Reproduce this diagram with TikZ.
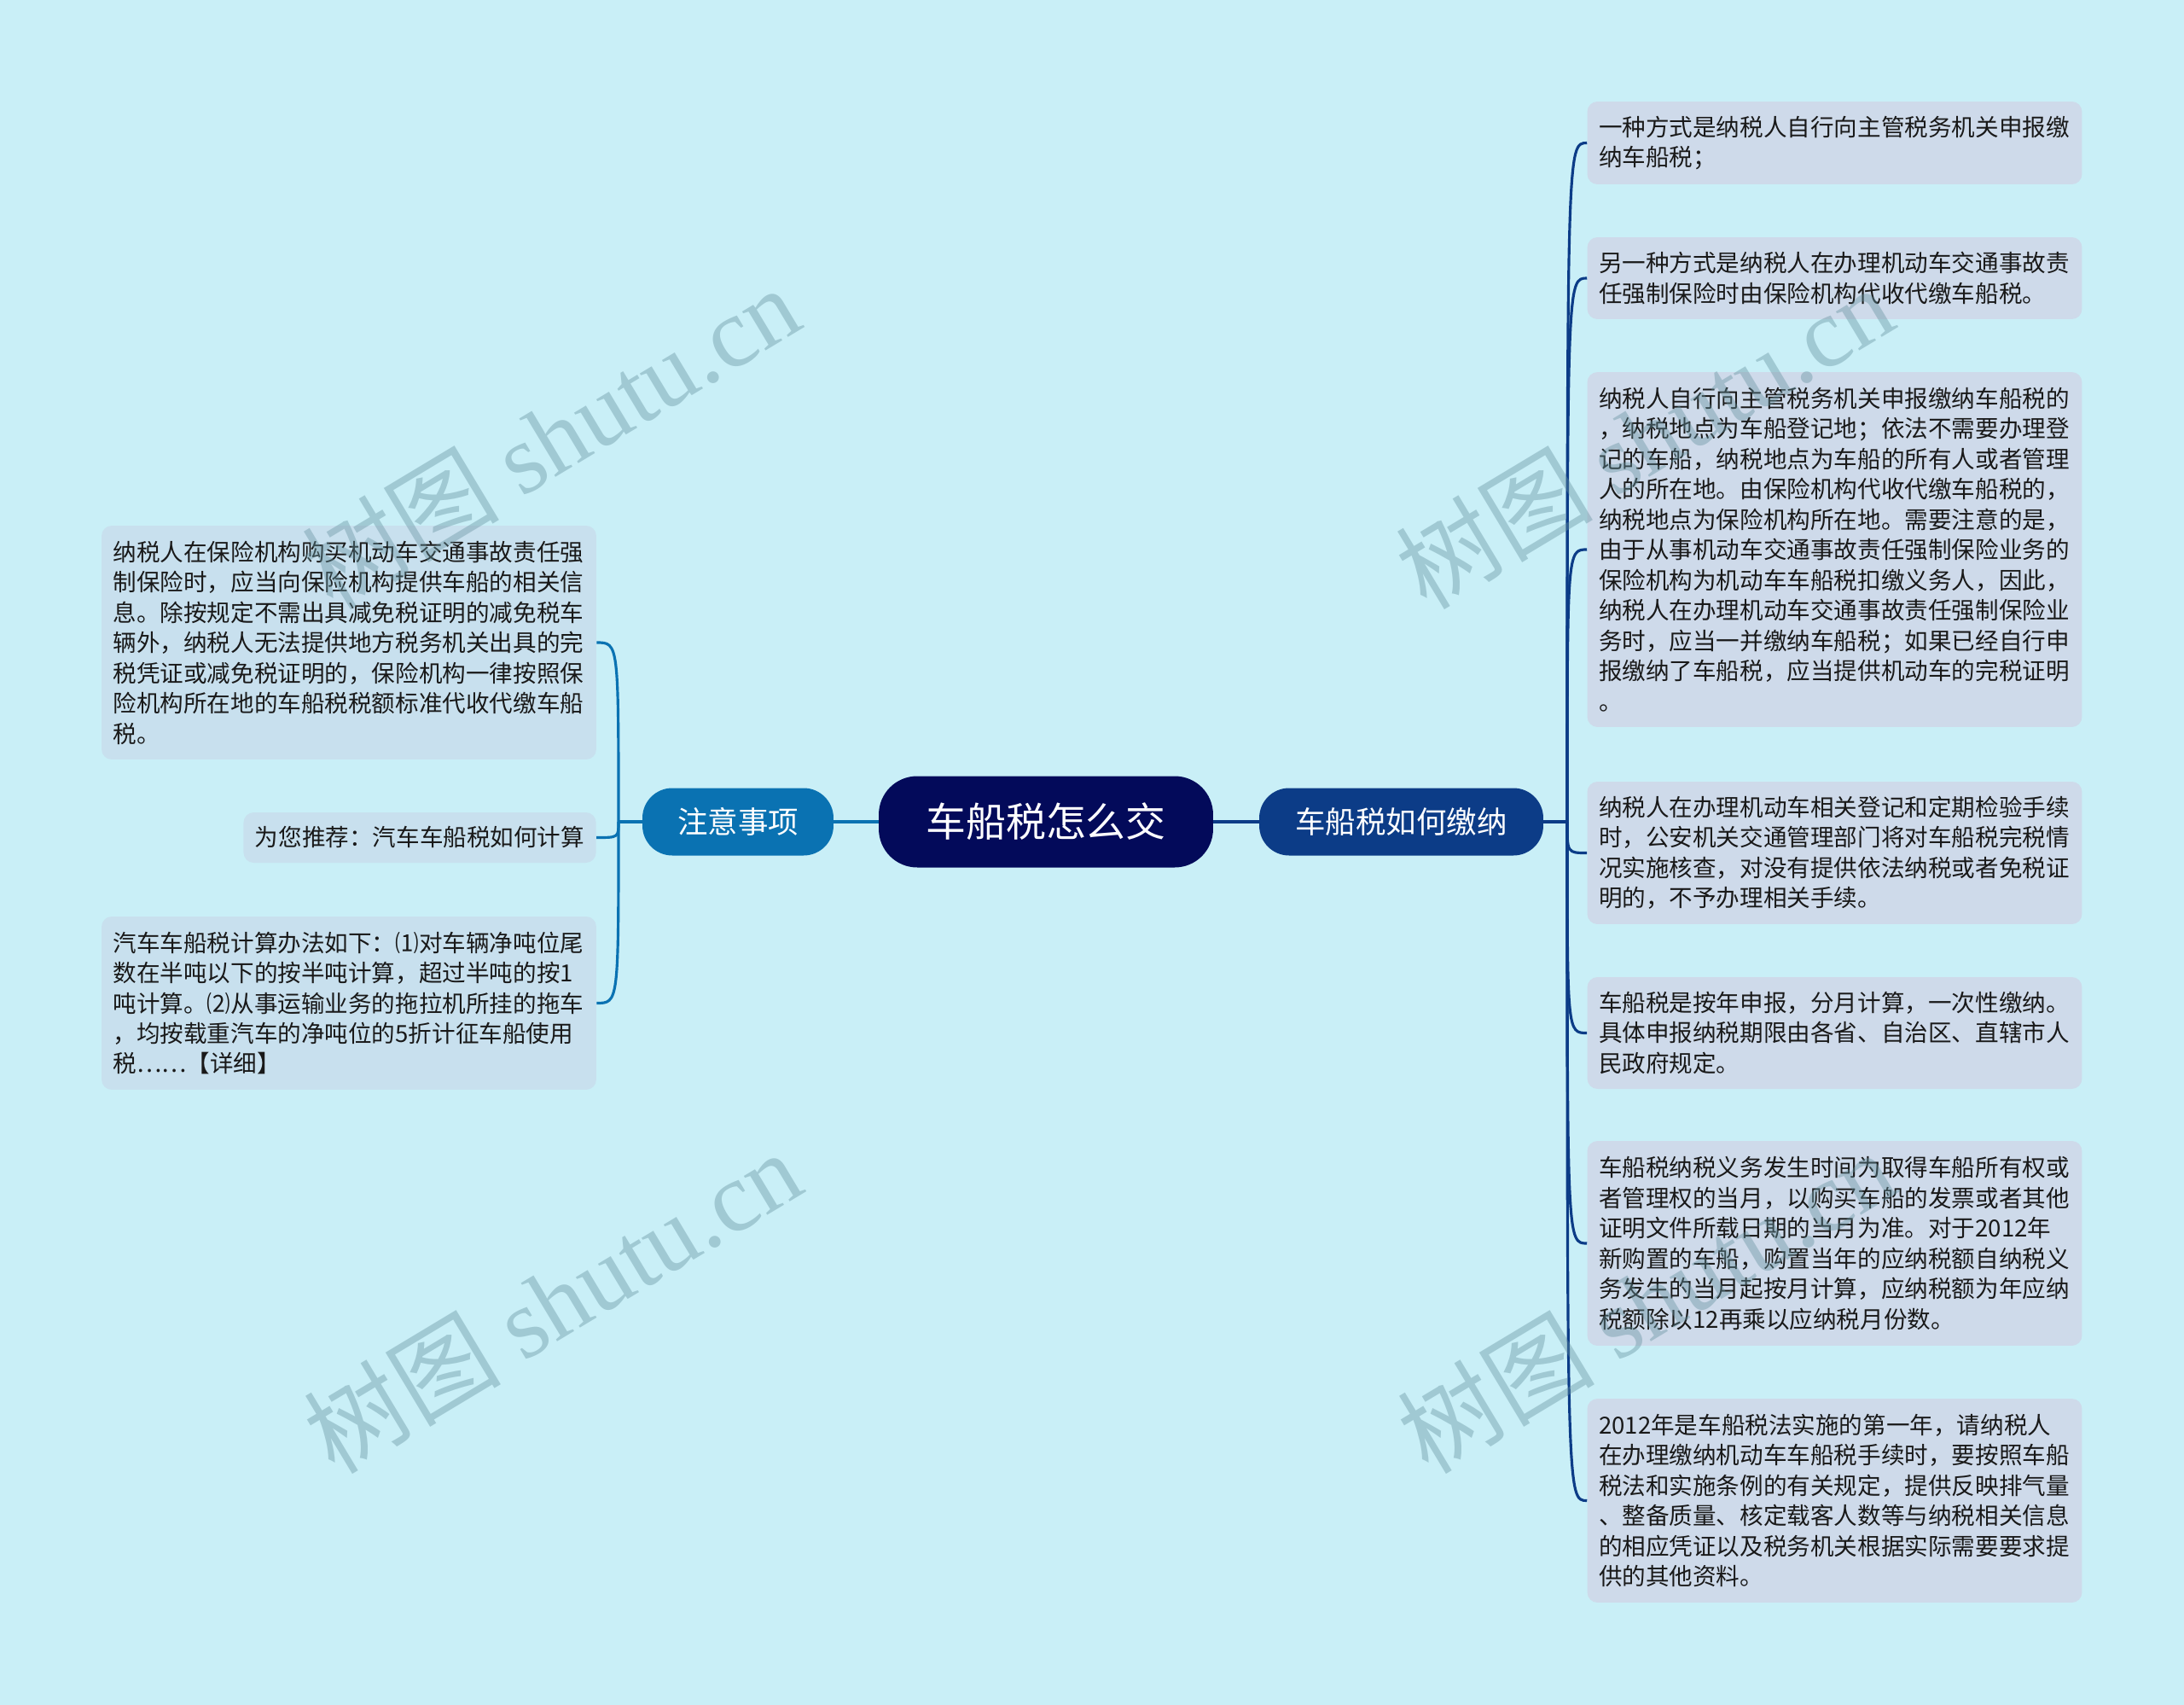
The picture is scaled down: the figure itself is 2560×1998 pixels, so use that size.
\documentclass[tikz,border=0pt]{standalone}
\usepackage{fontspec}
\setmainfont{Noto Sans CJK SC}
\newfontfamily\wmlatin{Liberation Serif}
\usepackage{tikz}
\usetikzlibrary{calc}

\definecolor{bgcyan}{RGB}{201,239,247}
\definecolor{rootnavy}{RGB}{3,10,90}
\definecolor{rightblue}{RGB}{12,60,135}
\definecolor{leftblue}{RGB}{10,114,178}
\definecolor{leafgray}{RGB}{206,218,234}
\definecolor{leafcyan}{RGB}{200,224,238}
\definecolor{leafink}{RGB}{25,25,25}
\definecolor{wmgray}{RGB}{100,145,158}

\newcommand{\leaffont}{\fontsize{15.7}{20.2}\selectfont}

\begin{document}
\begin{tikzpicture}[x=0.02cm, y=-0.02cm,
  rootbox/.style={fill=rootnavy, text=white, rounded corners=0.9cm, minimum width=7.84cm, minimum height=2.14cm, inner sep=0pt, font=\fontsize{26.7}{30}\selectfont},
  branchbox/.style={text=white, rounded corners=0.7cm, minimum height=1.58cm, inner sep=0pt, font=\fontsize{20.2}{24}\selectfont},
  leafbox/.style={rounded corners=0.24cm, text=leafink, inner xsep=0.27cm, inner ysep=0pt, font=\leaffont},
  wideleaf/.style={leafbox, align=left, text width=11.06cm},
  rline/.style={draw=rightblue, line width=1.8pt},
  lline/.style={draw=leftblue, line width=1.8pt},
  wmark/.style={text=wmgray, opacity=0.4, rotate=31, inner sep=0pt, font=\fontsize{66}{74}\selectfont}]

 \useasboundingbox (0,0) rectangle (2560,1998);
 \fill [bgcyan] (0,0) rectangle (2560,1998);

 \node [rootbox] (root) at (1226,963) {车船税怎么交};
 \node [branchbox, fill=leftblue, minimum width=4.48cm] (zysx) at (865,963) {注意事项};
 \node [branchbox, fill=rightblue, minimum width=6.66cm] (rjnn) at (1642.5,963) {车船税如何缴纳};

 % left side
 \node [wideleaf, fill=leafcyan, minimum height=5.48cm] (l1) at (409,753) {纳税人在保险机构购买机动车交通事故责任强\\制保险时，应当向保险机构提供车船的相关信\\息。除按规定不需出具减免税证明的减免税车\\辆外，纳税人无法提供地方税务机关出具的完\\税凭证或减免税证明的，保险机构一律按照保\\险机构所在地的车船税税额标准代收代缴车船\\税。};
 \node [leafbox, fill=leafcyan, minimum height=1.18cm, anchor=east] (l2) at (699,981.5) {为您推荐：汽车车船税如何计算};
 \node [wideleaf, fill=leafcyan, minimum height=4.06cm] (l3) at (409,1175.5) {汽车车船税计算办法如下：⑴对车辆净吨位尾\\数在半吨以下的按半吨计算，超过半吨的按1\\吨计算。⑵从事运输业务的拖拉机所挂的拖车\\，均按载重汽车的净吨位的5折计征车船使用\\税……【详细】};

 % right side
 \node [wideleaf, fill=leafgray, minimum height=1.94cm] (r1) at (2150.5,167.5) {一种方式是纳税人自行向主管税务机关申报缴\\纳车船税；};
 \node [wideleaf, fill=leafgray, minimum height=1.92cm] (r2) at (2150.5,326) {另一种方式是纳税人在办理机动车交通事故责\\任强制保险时由保险机构代收代缴车船税。};
 \node [wideleaf, fill=leafgray, minimum height=8.32cm] (r3) at (2150.5,644) {纳税人自行向主管税务机关申报缴纳车船税的\\，纳税地点为车船登记地；依法不需要办理登\\记的车船，纳税地点为车船的所有人或者管理\\人的所在地。由保险机构代收代缴车船税的，\\纳税地点为保险机构所在地。需要注意的是，\\由于从事机动车交通事故责任强制保险业务的\\保险机构为机动车车船税扣缴义务人，因此，\\纳税人在办理机动车交通事故责任强制保险业\\务时，应当一并缴纳车船税；如果已经自行申\\报缴纳了车船税，应当提供机动车的完税证明\\。};
 \node [wideleaf, fill=leafgray, minimum height=3.34cm] (r4) at (2150.5,999.5) {纳税人在办理机动车相关登记和定期检验手续\\时，公安机关交通管理部门将对车船税完税情\\况实施核查，对没有提供依法纳税或者免税证\\明的，不予办理相关手续。};
 \node [wideleaf, fill=leafgray, minimum height=2.62cm] (r5) at (2150.5,1210.5) {车船税是按年申报，分月计算，一次性缴纳。\\具体申报纳税期限由各省、自治区、直辖市人\\民政府规定。};
 \node [wideleaf, fill=leafgray, minimum height=4.8cm] (r6) at (2150.5,1457) {车船税纳税义务发生时间为取得车船所有权或\\者管理权的当月，以购买车船的发票或者其他\\证明文件所载日期的当月为准。对于2012年\\新购置的车船，购置当年的应纳税额自纳税义\\务发生的当月起按月计算，应纳税额为年应纳\\税额除以12再乘以应纳税月份数。};
 \node [wideleaf, fill=leafgray, minimum height=4.78cm] (r7) at (2150.5,1758.5) {2012年是车船税法实施的第一年，请纳税人\\在办理缴纳机动车车船税手续时，要按照车船\\税法和实施条例的有关规定，提供反映排气量\\、整备质量、核定载客人数等与纳税相关信息\\的相应凭证以及税务机关根据实际需要要求提\\供的其他资料。};

 \coordinate (lfork) at (725,963);
 \coordinate (rfork) at (1837,963);

 \draw [lline] (root.west) -- (zysx.east);
 \draw [rline] (root.east) -- (rjnn.west);

 \draw [lline] (zysx.west) -- (lfork);
 \draw [lline] (lfork) .. controls (lfork |- l1.east) and (lfork |- l1.east) .. (l1.east);
 \draw [lline] (lfork) .. controls (lfork |- l2.east) and (lfork |- l2.east) .. (l2.east);
 \draw [lline] (lfork) .. controls (lfork |- l3.east) and (lfork |- l3.east) .. (l3.east);

 \draw [rline] (rjnn.east) -- (rfork);
 \draw [rline] (rfork) .. controls (rfork |- r1.west) and (rfork |- r1.west) .. (r1.west);
 \draw [rline] (rfork) .. controls (rfork |- r2.west) and (rfork |- r2.west) .. (r2.west);
 \draw [rline] (rfork) .. controls (rfork |- r3.west) and (rfork |- r3.west) .. (r3.west);
 \draw [rline] (rfork) .. controls (rfork |- r4.west) and (rfork |- r4.west) .. (r4.west);
 \draw [rline] (rfork) .. controls (rfork |- r5.west) and (rfork |- r5.west) .. (r5.west);
 \draw [rline] (rfork) .. controls (rfork |- r6.west) and (rfork |- r6.west) .. (r6.west);
 \draw [rline] (rfork) .. controls (rfork |- r7.west) and (rfork |- r7.west) .. (r7.west);

 % watermarks
 \node [wmark] (wm1) at (645,512) {树图 {\wmlatin shutu.cn}};
 \node [wmark] (wm2) at (647,1525) {树图 {\wmlatin shutu.cn}};
 \node [wmark] (wm3) at (1927,512) {树图 {\wmlatin shutu.cn}};
 \node [wmark] (wm4) at (1929,1525) {树图 {\wmlatin shutu.cn}};
\end{tikzpicture}
\end{document}
